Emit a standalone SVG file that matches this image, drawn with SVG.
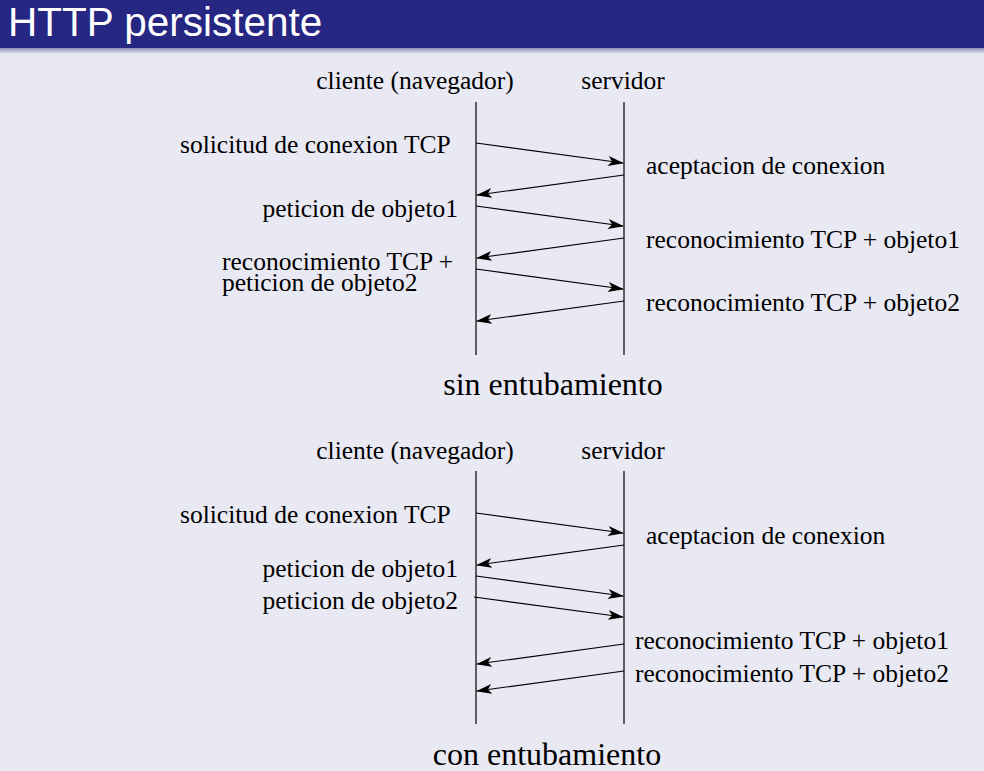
<svg xmlns="http://www.w3.org/2000/svg" width="984" height="771" viewBox="0 0 984 771">
<defs>
<linearGradient id="shadow" x1="0" y1="0" x2="0" y2="1">
<stop offset="0" stop-color="#8c8cb8"/>
<stop offset="1" stop-color="#e9e9f3"/>
</linearGradient>
<marker id="ah" markerWidth="16" markerHeight="10" refX="15" refY="5" orient="auto" markerUnits="userSpaceOnUse">
<path d="M0,0 L16,5 L0,10 L4,5 Z" fill="#000"/>
</marker>
<style>
.t{font-family:"Liberation Serif","Times New Roman",serif;font-size:25.5px;fill:#000}
.cap{font-family:"Liberation Serif","Times New Roman",serif;font-size:32px;fill:#000}
.ll{stroke:#000;stroke-width:1.2}
.ar{stroke:#000;stroke-width:1.2;fill:none;marker-end:url(#ah)}
</style>
</defs>
<rect width="984" height="771" fill="#e9e9f3"/>
<rect width="984" height="48" fill="#262683"/>
<rect y="48" width="984" height="6" fill="url(#shadow)"/>
<text x="8" y="36" font-family="Liberation Sans,Arial,sans-serif" font-size="40.5" fill="#fff">HTTP persistente</text>

<g id="top">
<g id="t-client"><text class="t" x="415" y="89" text-anchor="middle">cliente (navegador)</text><line class="ll" x1="476" y1="102" x2="476" y2="355"/></g>
<g id="t-server"><text class="t" x="623" y="89" text-anchor="middle">servidor</text><line class="ll" x1="624" y1="102" x2="624" y2="355"/></g>
<g id="t-labels">
<text class="t" x="180" y="153">solicitud de conexion TCP</text>
<text class="t" x="646" y="174">aceptacion de conexion</text>
<text class="t" x="458" y="217" text-anchor="end">peticion de objeto1</text>
<text class="t" x="646" y="248">reconocimiento TCP + objeto1</text>
<text class="t" x="222" y="270">reconocimiento TCP +</text>
<text class="t" x="222" y="291">peticion de objeto2</text>
<text class="t" x="646" y="311">reconocimiento TCP + objeto2</text>
<text class="cap" x="553" y="395" text-anchor="middle">sin entubamiento</text>
</g>
<g id="t-connectors">
<line class="ar" x1="476" y1="143" x2="623" y2="163"/>
<line class="ar" x1="624" y1="175" x2="477" y2="195"/>
<line class="ar" x1="476" y1="206" x2="623" y2="226"/>
<line class="ar" x1="624" y1="238" x2="477" y2="258"/>
<line class="ar" x1="476" y1="269" x2="623" y2="289"/>
<line class="ar" x1="624" y1="301" x2="477" y2="321"/>
</g>
</g>

<g id="bottom">
<g id="b-client"><text class="t" x="415" y="459" text-anchor="middle">cliente (navegador)</text><line class="ll" x1="476" y1="471" x2="476" y2="724"/></g>
<g id="b-server"><text class="t" x="623" y="459" text-anchor="middle">servidor</text><line class="ll" x1="624" y1="471" x2="624" y2="724"/></g>
<g id="b-labels">
<text class="t" x="180" y="523">solicitud de conexion TCP</text>
<text class="t" x="646" y="544">aceptacion de conexion</text>
<text class="t" x="458" y="577" text-anchor="end">peticion de objeto1</text>
<text class="t" x="458" y="609" text-anchor="end">peticion de objeto2</text>
<text class="t" x="635" y="649">reconocimiento TCP + objeto1</text>
<text class="t" x="635" y="682">reconocimiento TCP + objeto2</text>
<text class="cap" x="547" y="765" text-anchor="middle">con entubamiento</text>
</g>
<g id="b-connectors">
<line class="ar" x1="476" y1="513" x2="623" y2="533"/>
<line class="ar" x1="624" y1="545" x2="477" y2="565"/>
<line class="ar" x1="476" y1="576" x2="623" y2="596"/>
<line class="ar" x1="474" y1="597" x2="623" y2="617"/>
<line class="ar" x1="624" y1="644" x2="477" y2="664"/>
<line class="ar" x1="624" y1="671" x2="477" y2="691"/>
</g>
</g>
</svg>
